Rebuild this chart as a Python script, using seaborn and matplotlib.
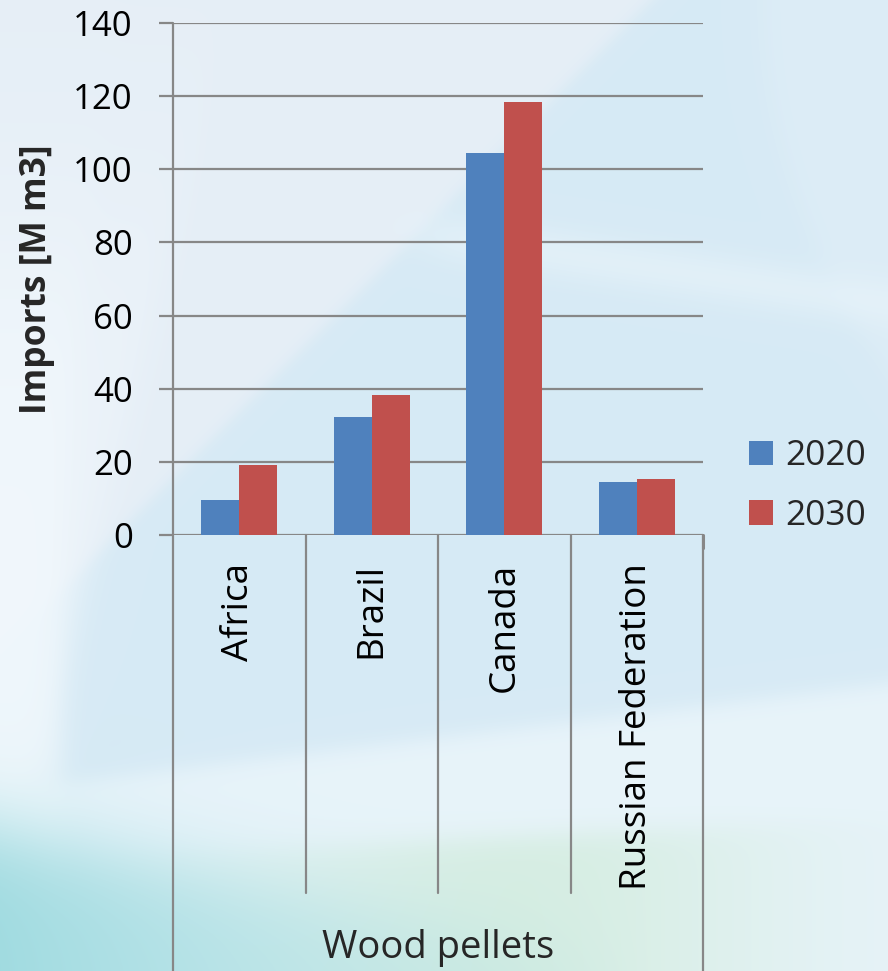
import numpy as np
import pandas as pd
import matplotlib
matplotlib.use("Agg")
import matplotlib.pyplot as plt
import matplotlib.transforms as mtransforms
from matplotlib.patches import Patch
import seaborn as sns

# ---- data ----
categories = ["Africa", "Brazil", "Canada", "Russian Federation"]
years = ["2020", "2030"]
imports_2020 = [9.7, 32.3, 104.5, 14.6]
imports_2030 = [19.2, 38.4, 118.5, 15.4]
y_ticks = [0, 20, 40, 60, 80, 100, 120, 140]
group_label = "Wood pellets"
y_label = "Imports [M m3]"

df = pd.DataFrame({
    "Region": categories * 2,
    "Year": [years[0]] * 4 + [years[1]] * 4,
    "Imports": imports_2020 + imports_2030,
})

sns.set_theme(style="white")
plt.rcParams["font.family"] = ["Open Sans", "DejaVu Sans"]

W, H = 888, 971
fig = plt.figure(figsize=(W / 100, H / 100), dpi=100)

# ---- decorative background ----
bg = fig.add_axes([0, 0, 1, 1], zorder=-5)
yy, xx = np.mgrid[0:H, 0:W].astype(float)


def blend(img, col, w):
    w = np.clip(w, 0, 1)[..., None]
    return img * (1 - w) + np.array(col) * w


sig = lambda z: 1 / (1 + np.exp(-z))
img = np.ones((H, W, 3)) * np.array([0.843, 0.918, 0.961])
# upper-left lighter triangle
img = blend(img, [0.90, 0.935, 0.967], sig((650 - xx - 1.0 * yy) / 6))
# far-left light arc
arc = 60 + 0.00012 * (yy - 700) ** 2
img = blend(img, [0.94, 0.965, 0.985], sig((170 - xx - 0.25 * yy + 60) / 10) * sig((yy - 200) / 80) * 0.6)
img = blend(img, [0.95, 0.975, 0.99], sig((arc - xx) / 8) * sig((yy - 300) / 60) * 0.7)
# top-right lighter arc region
img = blend(img, [0.87, 0.93, 0.968], sig((xx - 760 - 0.0009 * (yy - 0) ** 2) / 8) * 0.8)
# light lower area
img = blend(img, [0.925, 0.965, 0.985], sig((yy - (790 - 0.12 * xx)) / 6) * 0.8)
# light band mid-right
img = blend(img, [0.91, 0.955, 0.98], np.exp(-((yy - (230 + 0.15 * (xx - 400))) / 25) ** 2) * sig((xx - 420) / 20) * 0.6)
# green band lower middle
g = sig((yy - (862 - 0.05 * xx)) / 8) * np.exp(-((xx - 520) / 260) ** 2)
img = blend(img, [0.82, 0.925, 0.86], 0.75 * g)
# teal bottom-left
t = sig((yy - (830 + 0.2 * xx)) / 25) * np.clip(1 - xx / 650, 0, 1)
img = blend(img, [0.63, 0.86, 0.88], t)
bg.imshow(np.clip(img, 0, 1), aspect="auto", extent=[0, W, H, 0])
bg.axis("off")

# ---- main axes ----
left, right, top, bottom = 173, 703, 23, 535
ax = fig.add_axes([left / W, 1 - bottom / H, (right - left) / W, (bottom - top) / H])
ax.patch.set_alpha(0)

palette = {"2020": "#4f81bd", "2030": "#c0504d"}
sns.barplot(data=df, x="Region", y="Imports", hue="Year", order=categories,
            hue_order=years, palette=palette, width=0.575, ax=ax,
            saturation=1, edgecolor="none", legend=False, zorder=3)

grid_c = "#878787"
ax.set_xlim(-0.5, len(categories) - 0.5)
ax.set_ylim(0, 140)
ax.set_yticks(y_ticks)
ax.yaxis.grid(True, color=grid_c, linewidth=1.6, zorder=0)
ax.set_axisbelow(True)
for s in ["top", "right", "bottom", "left"]:
    ax.spines[s].set_visible(False)

ax.tick_params(axis="y", which="major", direction="out", length=10, width=1.6,
               color=grid_c, pad=19, labelsize=25, labelcolor="black", left=True)
ax.tick_params(axis="x", length=0, pad=20, labelsize=26.5, labelcolor="black")
ax.set_xticks(range(len(categories)))
ax.set_xticklabels(categories, rotation=90, va="top", ha="center")
ax.set_xlabel("")
ax.set_ylabel("")
fig.text(37 / W, 1 - 279 / H, y_label, fontsize=25.5, fontweight="bold",
         rotation=90, ha="center", va="center")

# category separator lines and outer frame lines below axis
trans = mtransforms.blended_transform_factory(ax.transData, ax.transAxes)
sep_bottom = (bottom - 893) / (bottom - top)
frame_bottom = (bottom - H) / (bottom - top)
for xs in [0.5, 1.5, 2.5]:
    ax.plot([xs, xs], [0, sep_bottom], transform=trans, color=grid_c, lw=1.6,
            clip_on=False, zorder=1)
ax.plot([-0.5, -0.5], [1, frame_bottom], transform=trans, color=grid_c, lw=1.6,
        clip_on=False, zorder=4)
ax.plot([3.5, 3.5], [0.0, frame_bottom], transform=trans, color=grid_c, lw=1.6,
        clip_on=False, zorder=4)
ax.plot([3.5, 3.5], [0.0, -0.025], transform=trans, color=grid_c, lw=2.2,
        clip_on=False, zorder=4)

fig.text((left + right) / 2 / W, 1 - 948 / H, group_label, fontsize=27.5,
         ha="center", va="center")

# ---- legend ----
handles = [Patch(facecolor=palette[y], edgecolor="none") for y in years]
fig.legend(handles, years, loc="center left", bbox_to_anchor=(735 / W, 1 - 486 / H),
           frameon=False, fontsize=25.5, handlelength=0.68, handleheight=0.68,
           handletextpad=0.35, labelspacing=0.72, borderaxespad=0)

fig.savefig("out.png", dpi=100)
